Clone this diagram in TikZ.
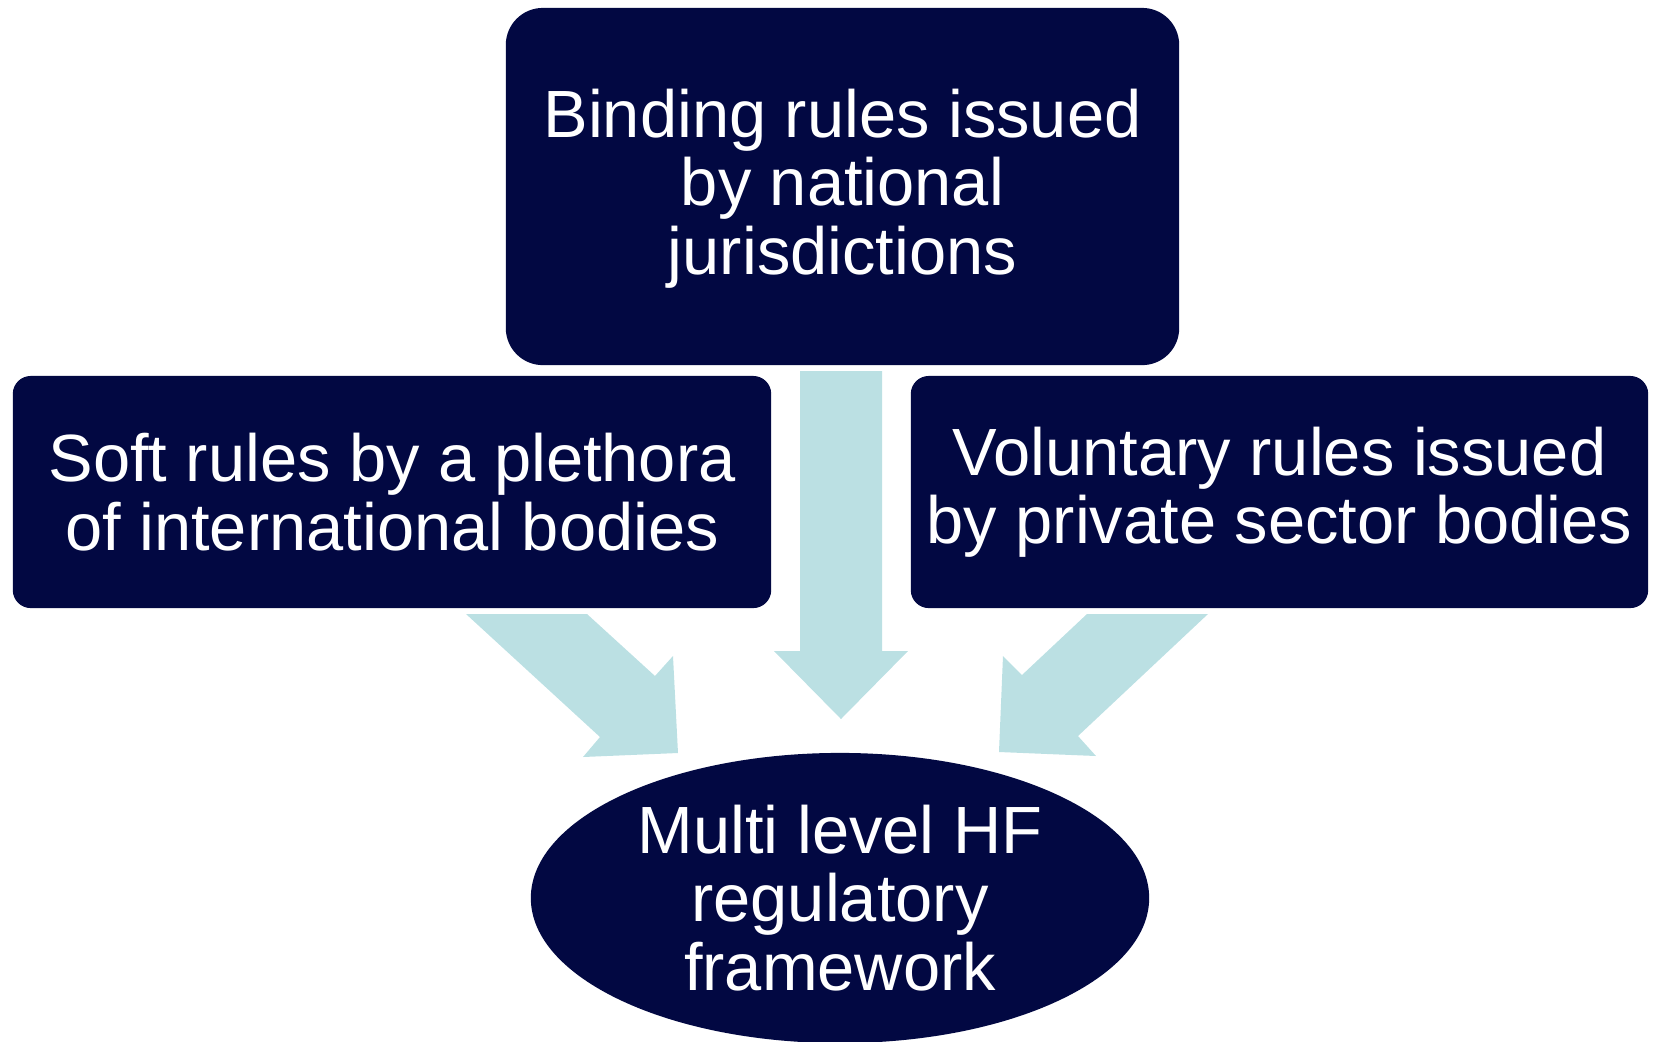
\documentclass[tikz,border=0pt]{standalone}
\usepackage{fontspec}
\setmainfont{Liberation Sans}
\usetikzlibrary{shapes.geometric}
\definecolor{CNavy}{HTML}{020842}
\definecolor{CIce}{HTML}{BBE0E3}

\begin{document}
\begin{tikzpicture}[x=0.01cm, y=-0.01cm,
    rulebox/.style={fill=CNavy, text=white, align=center, inner sep=0pt,
      font=\fontsize{19}{19.5}\selectfont},
    flowarrow/.style={fill=CIce}]

  \useasboundingbox (0,0) rectangle (1653,1041);

  % ============================================
  % Block arrows (drawn first, behind the boxes)
  % ============================================
  % Centre: national rules straight down
  \fill[flowarrow] (800,371) -- (882,371) -- (882,651) -- (908,651)
    -- (841,719) -- (774,651) -- (800,651) -- cycle;
  % Left: international bodies
  \fill[flowarrow] (466,614) -- (587,614) -- (655,676) -- (673,656)
    -- (678,753) -- (583,757) -- (600,737) -- cycle;
  % Right: private sector bodies
  \fill[flowarrow] (1208,614) -- (1087,614) -- (1022,675) -- (1003,656)
    -- (999,752) -- (1096,756) -- (1078,736) -- cycle;

  % ============================================
  % Sources of rules
  % ============================================
  \node[rulebox, rounded corners=0.37cm, minimum width=6.73cm, minimum height=3.57cm,
    text height=54pt] (binding) at (842.5,186.5) {Binding rules issued\\by national\\jurisdictions};
  \node[rulebox, rounded corners=0.18cm, minimum width=7.58cm, minimum height=2.32cm]
    (soft) at (392,492) {Soft rules by a plethora\\of international bodies};
  \node[rulebox, rounded corners=0.18cm, minimum width=7.37cm, minimum height=2.32cm]
    (voluntary) at (1279.5,492) {Voluntary rules issued\\by private sector bodies};

  % ============================================
  % Resulting framework
  % ============================================
  \node[rulebox, ellipse, minimum width=6.18cm, minimum height=2.9cm]
    (framework) at (840,898) {Multi level HF\\regulatory\\framework};

\end{tikzpicture}
\end{document}
